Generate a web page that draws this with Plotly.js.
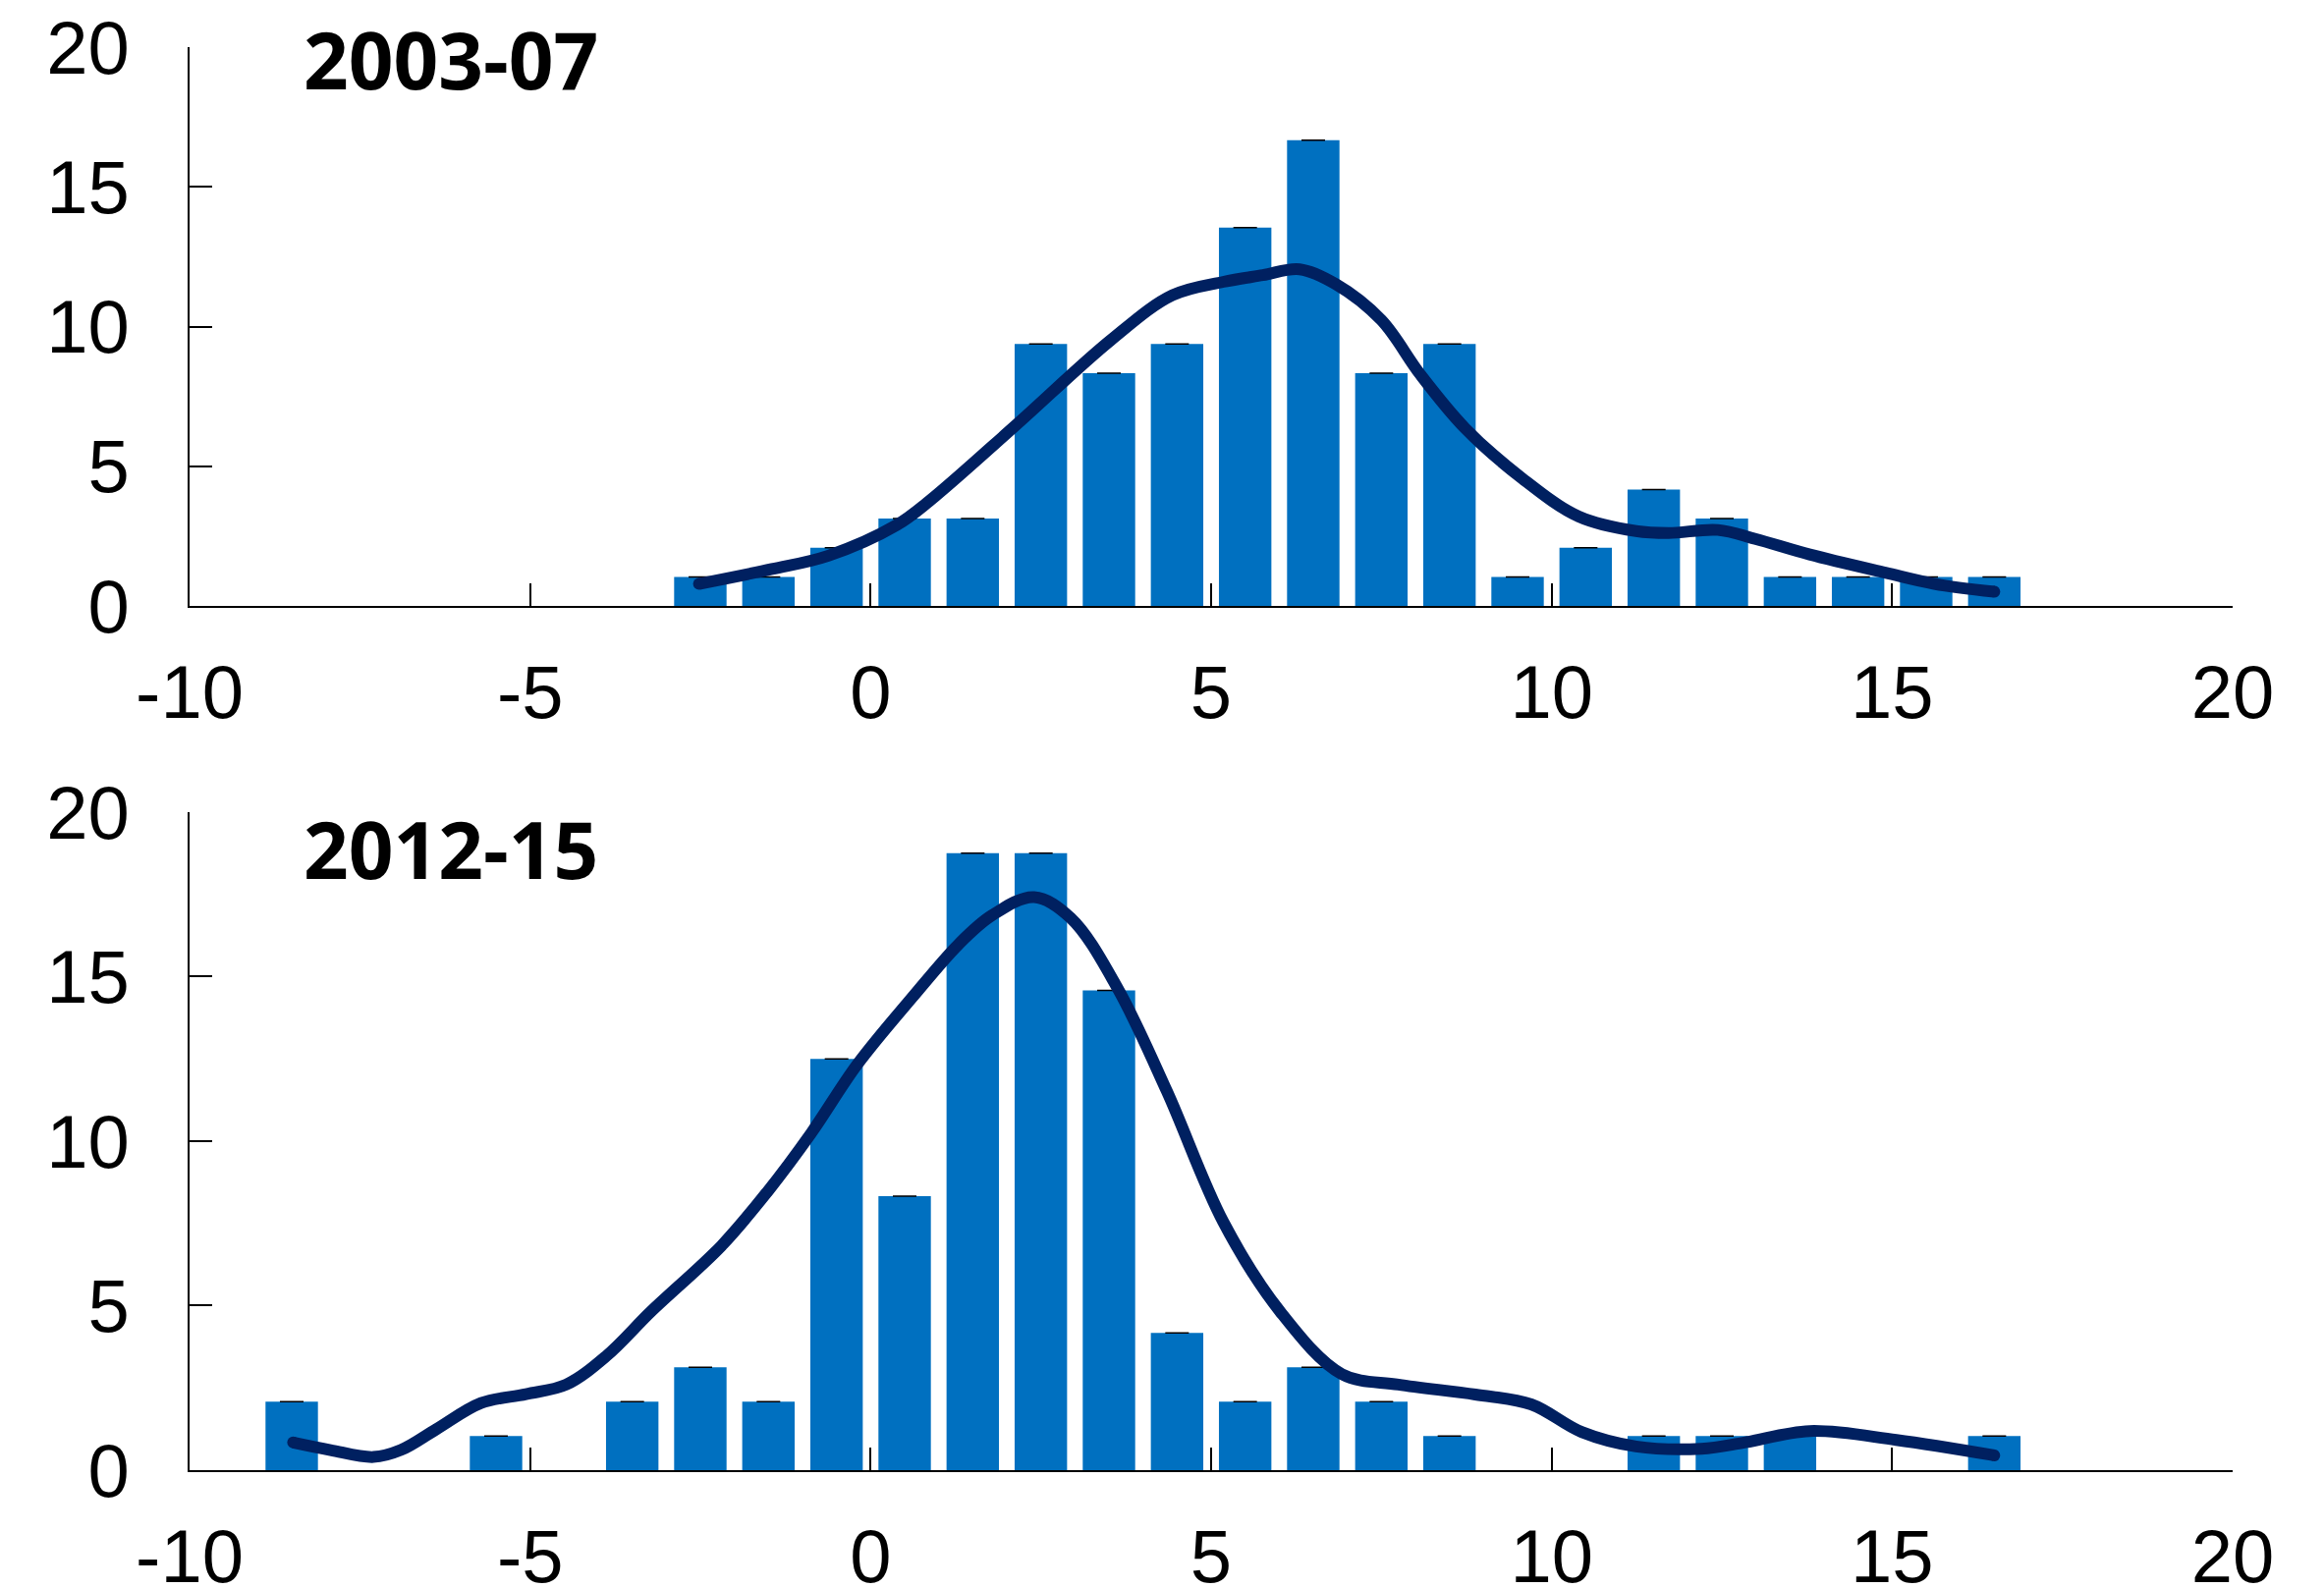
<!DOCTYPE html>
<html>
<head>
<meta charset="utf-8">
<script src="https://cdn.plot.ly/plotly-3.0.1.min.js"></script>
<style>html,body{margin:0;padding:0;background:#fff;}#chart{width:2366px;height:1617px;}</style>
</head>
<body>
<div id="chart"></div>
<script>
// Bin centres (percentage-point bins) and shares (% of countries)
const binsTop = [-2.5,-1.5,-0.5,0.5,1.5,2.5,3.5,4.5,5.5,6.5,7.5,8.5,9.5,10.5,11.5,12.5,13.5,14.5,15.5,16.5];
const sharesTop = [1.04,1.04,2.08,3.13,3.13,9.38,8.33,9.38,13.54,16.67,8.33,9.38,1.04,2.08,4.17,3.13,1.04,1.04,1.04,1.04];

const binsBottom = [-8.5,-5.5,-3.5,-2.5,-1.5,-0.5,0.5,1.5,2.5,3.5,4.5,5.5,6.5,7.5,8.5,11.5,12.5,13.5,16.5];
const sharesBottom = [2.08,1.04,2.08,3.13,2.08,12.5,8.33,18.75,18.75,14.58,4.17,2.08,3.13,2.08,1.04,1.04,1.04,1.04,1.04];

// Smoothed density lines
const kdeTopX = [-2.52,-1.45,-0.62,0.38,0.87,2.12,3.52,4.43,5.18,5.76,6.30,6.83,7.50,8.07,8.73,9.56,10.4,11.24,11.72,12.44,12.99,13.79,14.90,15.62,16.5];
const kdeTopY = [0.79,1.32,1.80,2.89,3.77,6.44,9.50,11.12,11.6,11.84,12.05,11.52,10.23,8.29,6.36,4.58,3.2,2.68,2.61,2.72,2.40,1.84,1.19,0.79,0.51];

const kdeBotX = [-8.48,-7.93,-7.30,-6.90,-6.38,-5.72,-5.06,-4.47,-3.88,-3.22,-2.19,-1.52,-0.87,-0.20,0.62,1.29,1.78,2.40,2.94,3.61,4.35,5.18,6.01,6.92,7.75,8.88,9.7,10.44,11.24,12.20,12.83,13.79,15.06,16.5];
const kdeBotY = [0.84,0.61,0.40,0.61,1.24,2.04,2.31,2.60,3.47,4.83,6.82,8.45,10.25,12.32,14.39,15.98,16.86,17.42,16.78,14.71,11.52,7.54,4.83,2.92,2.60,2.30,2.0,1.16,0.72,0.65,0.84,1.19,0.92,0.45];

const titles = ['2003-07','2012-15'];
const xTicks = [-10,-5,0,5,10,15,20];
const yTicks = [0,5,10,15,20];

const barColor = '#0070C0';
const lineColor = '#002060';

function barTrace(x, y, xa, ya) {
  return {
    type: 'bar', x: x, y: y, xaxis: xa, yaxis: ya,
    width: 0.77, marker: {color: barColor, line: {width: 0}},
    error_y: {type: 'data', array: y.map(() => 0), visible: true, color: '#000', thickness: 1.5, width: 12},
    hoverinfo: 'x+y'
  };
}
function lineTrace(x, y, xa, ya) {
  return {
    type: 'scatter', mode: 'lines', x: x, y: y, xaxis: xa, yaxis: ya,
    line: {color: lineColor, width: 12, shape: 'spline', smoothing: 1.0}
  };
}
function capTrace(x, y, xa, ya) {
  // round caps at both ends of the density line
  return {
    type: 'scatter', mode: 'markers', x: [x[0], x[x.length - 1]], y: [y[0], y[y.length - 1]],
    xaxis: xa, yaxis: ya, marker: {color: lineColor, size: 12, line: {width: 0}}
  };
}

const tickFont = {family: '"Liberation Sans", Arial, sans-serif', size: 76, color: '#000'};

function xAxis(anchor) {
  return {
    anchor: anchor, range: [-10, 20], tickvals: xTicks, ticktext: xTicks.map(String),
    showgrid: false, zeroline: false, showline: true, linecolor: '#000', linewidth: 2,
    ticks: 'inside', ticklen: 23, tickwidth: 2, tickcolor: '#000',
    tickfont: tickFont, ticklabelstandoff: 21, fixedrange: true
  };
}
function yAxis(anchor, domain) {
  return {
    anchor: anchor, domain: domain, range: [0, 20], tickvals: yTicks, ticktext: yTicks.map(String),
    showgrid: false, zeroline: false, showline: true, linecolor: '#000', linewidth: 2,
    ticks: 'inside', ticklen: 23, tickwidth: 2, tickcolor: '#000',
    tickfont: tickFont, ticklabelstandoff: 44, fixedrange: true
  };
}

const data = [
  barTrace(binsTop, sharesTop, 'x', 'y'),
  lineTrace(kdeTopX, kdeTopY, 'x', 'y'),
  capTrace(kdeTopX, kdeTopY, 'x', 'y'),
  barTrace(binsBottom, sharesBottom, 'x2', 'y2'),
  lineTrace(kdeBotX, kdeBotY, 'x2', 'y2'),
  capTrace(kdeBotX, kdeBotY, 'x2', 'y2')
];

const titleFont = {family: '"Open Sans", Lato, sans-serif', size: 80, color: '#000', weight: 'bold'};

const layout = {
  width: 2366, height: 1617,
  margin: {l: 193, r: 93, t: 48, b: 120},
  paper_bgcolor: '#fff', plot_bgcolor: '#fff',
  showlegend: false,
  xaxis: xAxis('y'),
  yaxis: yAxis('x', [0.6073, 1]),
  xaxis2: xAxis('y2'),
  yaxis2: yAxis('x2', [0, 0.4624]),
  annotations: [
    {xref: 'x', yref: 'y', x: -8.36, y: 19.6, xanchor: 'left', yanchor: 'middle', text: '<b>' + titles[0] + '</b>', showarrow: false, font: titleFont},
    {xref: 'x2', yref: 'y2', x: -8.36, y: 18.9, xanchor: 'left', yanchor: 'middle', text: '<b>' + titles[1] + '</b>', showarrow: false, font: titleFont}
  ]
};

Plotly.newPlot('chart', data, layout, {displayModeBar: false, staticPlot: true});
</script>
</body>
</html>
